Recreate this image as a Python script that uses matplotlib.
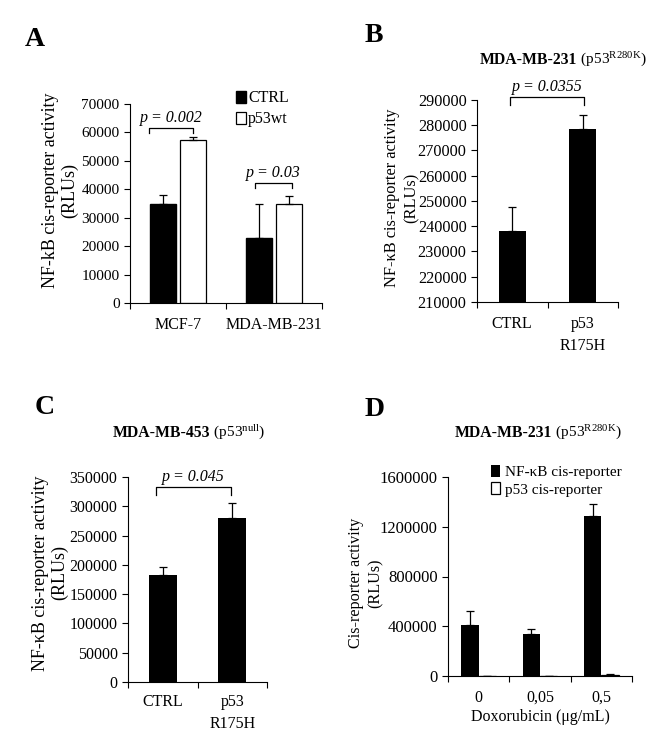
# Figure: NF-kB cis-reporter activity, 4 panels

import numpy as np
from matplotlib import pyplot as plt

plt.rcParams['font.family'] = ['Liberation Serif', 'DejaVu Serif']
plt.rcParams['mathtext.fontset'] = 'custom'
plt.rcParams['mathtext.rm'] = 'Liberation Serif'
plt.rcParams['mathtext.it'] = 'Liberation Serif:italic'
plt.rcParams['mathtext.bf'] = 'Liberation Serif:bold'
plt.rcParams['font.size'] = 11

# --- data ---
a_groups = ['MCF-7', 'MDA-MB-231']
a_ctrl = [35000, 23000]
a_ctrl_err = [3000, 12000]
a_p53wt = [57200, 34800]
a_p53wt_err = [1300, 2700]

b_labels = ['CTRL', 'p53\nR175H']
b_vals = [238000, 278500]
b_err = [9500, 5500]

c_labels = ['CTRL', 'p53\nR175H']
c_vals = [182000, 280000]
c_err = [14000, 25000]

d_labels = ['0', '0,05', '0,5']
d_nfkb = [410000, 340000, 1290000]
d_nfkb_err = [110000, 40000, 90000]
d_p53 = [4000, 4000, 12000]
d_p53_err = [0, 0, 3000]

W, H = 653, 736
fig = plt.figure(figsize=(W / 100, H / 100), dpi=100)


def add_ax(left, right, bottom, top):
    # pixel box -> figure fraction
    return fig.add_axes([left / W, 1 - bottom / H, (right - left) / W, (bottom - top) / H])


def style(ax, n, ysize, pad=10):
    for s in ['top', 'right']:
        ax.spines[s].set_visible(False)
    ax.set_xlim(-0.5, n - 0.5)
    ax.set_xticks(np.arange(-0.5, n, 1.0))
    ax.set_xticklabels([])
    ax.tick_params(axis='x', which='major', length=4, direction='out')
    ax.tick_params(axis='y', length=4, direction='out', labelsize=ysize)
    ax.set_xticks(np.arange(n), minor=True)
    ax.tick_params(axis='x', which='minor', length=0, labelsize=11.5, pad=pad)


def ylab(x, y, text, size, ls):
    fig.text(x / W, 1 - y / H, text, rotation=90, ha='center', va='center',
             multialignment='center', fontsize=size, linespacing=ls)


def bracket(ax, x0, x1, y, h, text, dy):
    ax.plot([x0, x0, x1, x1], [y - h, y, y, y - h], color='black', lw=0.9, clip_on=False)
    ax.text((x0 + x1) / 2, y + dy, text, ha='center', va='bottom', style='italic',
            fontsize=11.5)


def title(x, y, bold, rest):
    fig.text(x / W, 1 - y / H, bold, ha='right', va='center', fontweight='bold', fontsize=11.3)
    fig.text(x / W, 1 - y / H, rest, ha='left', va='center', fontsize=11)


def letter(x, y, s):
    fig.text(x / W, 1 - y / H, s, fontsize=20, fontweight='bold', va='center', ha='left')


ekw = dict(ecolor='black', capsize=3, elinewidth=0.9, capthick=0.9)

# --- A ---
ax = add_ax(130, 322, 303, 104)
x = np.arange(len(a_groups))
ax.bar(x - 0.16, a_ctrl, 0.27, color='black', edgecolor='black', label='CTRL',
       yerr=[np.zeros(2), a_ctrl_err], error_kw=ekw)
ax.bar(x + 0.16, a_p53wt, 0.27, color='white', edgecolor='black', linewidth=0.9, label='p53wt',
       yerr=[np.zeros(2), a_p53wt_err], error_kw=ekw)
style(ax, 2, 11)
ax.set_xticks(x, a_groups, minor=True)
ax.set_ylim(0, 70000)
ax.set_yticks(np.arange(0, 70001, 10000))
ylab(60, 190, 'NF-kB cis-reporter activity\n(RLUs)', 13, 1.2)
bracket(ax, -0.30, 0.16, 61600, 1800, 'p = 0.002', 800)
bracket(ax, 0.80, 1.19, 42200, 1800, 'p = 0.03', 800)
ax.legend(frameon=False, loc='upper left', bbox_to_anchor=(0.52, 1.10), handlelength=0.6,
          handleheight=0.8, handletextpad=0.15, labelspacing=0.3, borderaxespad=0, fontsize=11.5)
letter(25, 40, 'A')

# --- B ---
ax = add_ax(477, 618, 302, 100)
ax.bar(np.arange(2), b_vals, 0.38, color='black', yerr=[np.zeros(2), b_err], error_kw=ekw)
style(ax, 2, 11.7)
ax.set_xticks(np.arange(2), b_labels, minor=True, linespacing=1.5)
ax.set_ylim(210000, 290000)
ax.set_yticks(np.arange(210000, 290001, 10000))
ylab(402, 198, 'NF-\u03baB cis-reporter activity\n(RLUs)', 11.8, 1.33)
bracket(ax, -0.03, 1.02, 291200, 3000, 'p = 0.0355', 600)
title(577, 60, 'MDA-MB-231', r' (p53$^{\mathrm{R280K}}$)')
letter(365, 35, 'B')

# --- C ---
ax = add_ax(128, 267, 682, 477)
ax.bar(np.arange(2), c_vals, 0.4, color='black', yerr=[np.zeros(2), c_err], error_kw=ekw)
style(ax, 2, 11.5, pad=9)
ax.set_xticks(np.arange(2), c_labels, minor=True, linespacing=1.5)
ax.set_ylim(0, 350000)
ax.set_yticks(np.arange(0, 350001, 50000))
ylab(50, 573, 'NF-\u03baB cis-reporter activity\n(RLUs)', 13, 1.2)
bracket(ax, -0.1, 0.98, 333000, 13000, 'p = 0.045', 4000)
title(210, 433, 'MDA-MB-453', r' (p53$^{\mathrm{null}}$)')
letter(35, 407, 'C')

# --- D ---
ax = add_ax(448, 632, 676, 477)
x = np.arange(3)
ax.bar(x - 0.14, d_nfkb, 0.28, color='black', label='NF-\u03baB cis-reporter',
       yerr=[np.zeros(3), d_nfkb_err], error_kw=ekw)
ax.bar(x + 0.14, d_p53, 0.28, color='white', edgecolor='black', linewidth=0.9,
       label='p53 cis-reporter', yerr=[np.zeros(3), d_p53_err], error_kw=ekw)
style(ax, 3, 12)
ax.set_xticks(x, d_labels, minor=True)
ax.set_ylim(0, 1600000)
ax.set_yticks(np.arange(0, 1600001, 400000))
ax.ticklabel_format(axis='y', style='plain')
ylab(366, 583, 'Cis-reporter activity\n(RLUs)', 11.6, 1.3)
ax.set_xlabel('Doxorubicin (\u03bcg/mL)', fontsize=11.5, labelpad=2)
ax.legend(frameon=False, loc='upper left', bbox_to_anchor=(0.2, 1.09), handlelength=0.6,
          handleheight=0.8, handletextpad=0.3, labelspacing=0.2, borderaxespad=0, fontsize=11)
title(552, 433, 'MDA-MB-231', r' (p53$^{\mathrm{R280K}}$)')
letter(365, 410, 'D')

plt.savefig('out.png', dpi=100)
